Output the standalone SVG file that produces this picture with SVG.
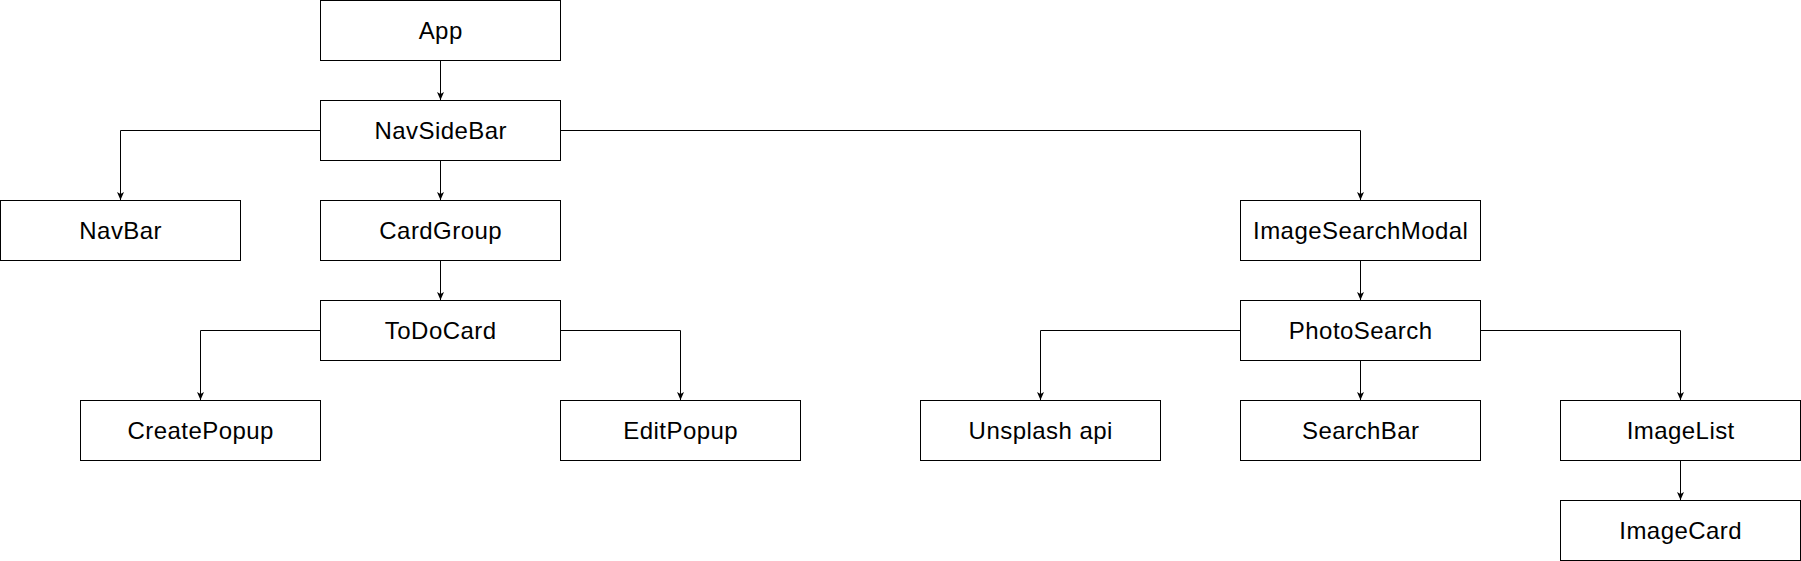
<svg xmlns="http://www.w3.org/2000/svg" width="1801" height="561" viewBox="0 0 1801 561">
<style>
.box{fill:#fff;stroke:#000;stroke-width:1}
.lbl{font-family:"Liberation Sans",Arial,Helvetica,sans-serif;font-size:24px;letter-spacing:0.45px;fill:#000;text-anchor:middle}
.edge{fill:none;stroke:#000;stroke-width:1}
</style>
<defs>
<marker id="arr" markerUnits="userSpaceOnUse" viewBox="0 0 8 8" markerWidth="8" markerHeight="8" refX="8" refY="4" orient="auto">
<path d="M0,0.5 L8,4 L0,7.5 L2,4 Z" fill="#000"/>
</marker>
</defs>
<rect width="1801" height="561" fill="#fff"/>
<g id="connectors">
<path class="edge" d="M440.5,60.5 V100" marker-end="url(#arr)"/>
<path class="edge" d="M320.5,130.5 H120.5 V200" marker-end="url(#arr)"/>
<path class="edge" d="M440.5,160.5 V200" marker-end="url(#arr)"/>
<path class="edge" d="M560.5,130.5 H1360.5 V200" marker-end="url(#arr)"/>
<path class="edge" d="M440.5,260.5 V300" marker-end="url(#arr)"/>
<path class="edge" d="M320.5,330.5 H200.5 V400" marker-end="url(#arr)"/>
<path class="edge" d="M560.5,330.5 H680.5 V400" marker-end="url(#arr)"/>
<path class="edge" d="M1360.5,260.5 V300" marker-end="url(#arr)"/>
<path class="edge" d="M1240.5,330.5 H1040.5 V400" marker-end="url(#arr)"/>
<path class="edge" d="M1360.5,360.5 V400" marker-end="url(#arr)"/>
<path class="edge" d="M1480.5,330.5 H1680.5 V400" marker-end="url(#arr)"/>
<path class="edge" d="M1680.5,460.5 V500" marker-end="url(#arr)"/>
</g>
<g id="app"><rect class="box" x="320.5" y="0.5" width="240" height="60"/><text class="lbl" x="440.7" y="39.3">App</text></g>
<g id="navsidebar"><rect class="box" x="320.5" y="100.5" width="240" height="60"/><text class="lbl" x="440.7" y="139.3">NavSideBar</text></g>
<g id="navbar"><rect class="box" x="0.5" y="200.5" width="240" height="60"/><text class="lbl" x="120.7" y="239.3">NavBar</text></g>
<g id="cardgroup"><rect class="box" x="320.5" y="200.5" width="240" height="60"/><text class="lbl" x="440.7" y="239.3">CardGroup</text></g>
<g id="imagesearchmodal"><rect class="box" x="1240.5" y="200.5" width="240" height="60"/><text class="lbl" x="1360.7" y="239.3">ImageSearchModal</text></g>
<g id="todocard"><rect class="box" x="320.5" y="300.5" width="240" height="60"/><text class="lbl" x="440.7" y="339.3">ToDoCard</text></g>
<g id="photosearch"><rect class="box" x="1240.5" y="300.5" width="240" height="60"/><text class="lbl" x="1360.7" y="339.3">PhotoSearch</text></g>
<g id="createpopup"><rect class="box" x="80.5" y="400.5" width="240" height="60"/><text class="lbl" x="200.7" y="439.3">CreatePopup</text></g>
<g id="editpopup"><rect class="box" x="560.5" y="400.5" width="240" height="60"/><text class="lbl" x="680.7" y="439.3">EditPopup</text></g>
<g id="unsplash"><rect class="box" x="920.5" y="400.5" width="240" height="60"/><text class="lbl" x="1040.7" y="439.3">Unsplash api</text></g>
<g id="searchbar"><rect class="box" x="1240.5" y="400.5" width="240" height="60"/><text class="lbl" x="1360.7" y="439.3">SearchBar</text></g>
<g id="imagelist"><rect class="box" x="1560.5" y="400.5" width="240" height="60"/><text class="lbl" x="1680.7" y="439.3">ImageList</text></g>
<g id="imagecard"><rect class="box" x="1560.5" y="500.5" width="240" height="60"/><text class="lbl" x="1680.7" y="539.3">ImageCard</text></g>
</svg>
